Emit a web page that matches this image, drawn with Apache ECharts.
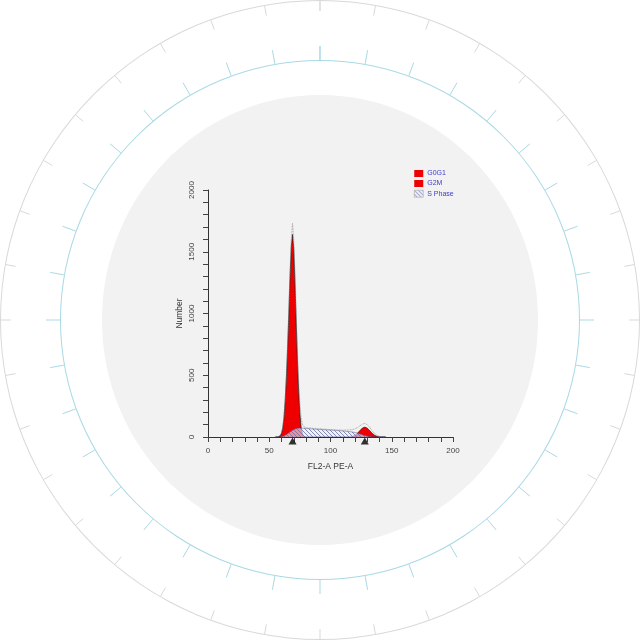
<!DOCTYPE html>
<html>
<head>
<meta charset="utf-8">
<style>html,body{margin:0;padding:0;background:#fff;}#c{width:640px;height:640px;}</style>
<script src="https://cdn.jsdelivr.net/npm/echarts@6/dist/echarts.min.js"></script>
</head>
<body>
<div id="c"></div>
<script>
// Channel positions (FL2-A PE-A)
const channels = [55,57,59,60,61,62,63,64,65,66,67,68,69,70,71,72,73,74,75,76,77,78,80,82,84,86,88,90,92,94,96,98,100,102,104,106,108,110,112,114,116,118,120,122,124,126,128,130,132,134,136,138,140,142,145];
// G0G1 model counts
const g0g1 = [0,0,10,30,70,150,290,480,720,1000,1300,1540,1640,1520,1250,930,620,370,190,80,30,8,0,0,0,0,0,0,0,0,0,0,0,0,0,0,0,0,0,0,0,0,0,0,0,0,0,0,0,0,0,0,0,0,0];
// S phase model counts
const sPhase = [0,0,0,2,5,9,14,20,27,34,41,48,54,60,64,68,70,72,72,72,71,70,69,68,66,65,63,62,61,60,58,57,56,55,54,52,51,49,47,45,43,40,36,31,25,18,12,7,3,1,0,0,0,0,0];
// G2M model counts
const g2m = [0,0,0,0,0,0,0,0,0,0,0,0,0,0,0,0,0,0,0,0,0,0,0,0,0,0,0,0,0,0,0,0,0,0,0,0,0,0,0,0,0,5,14,30,52,72,80,72,52,30,14,5,1,0,0];
// Measured histogram
const total = [0,2,15,35,80,165,310,510,760,1050,1360,1610,1730,1600,1330,1010,700,450,270,160,105,85,76,72,74,69,70,66,67,63,64,60,61,58,59,56,57,55,56,57,58,60,66,76,90,104,111,100,78,50,28,12,5,1,0];
// Peak markers
const peakChannels = [69, 128];

function pairs(vals){ return channels.map((c,i)=>[c, vals[i]]); }

// hatch pattern
const pc = document.createElement('canvas');
pc.width = 4; pc.height = 4;
const g = pc.getContext('2d');
g.fillStyle = 'rgba(238,239,250,0.6)';
g.fillRect(0,0,4,4);
g.strokeStyle = '#6a70ad';
g.lineWidth = 0.8;
g.beginPath();
g.moveTo(0,0); g.lineTo(4,4);
g.moveTo(-1,3); g.lineTo(1,5);
g.moveTo(3,-1); g.lineTo(5,1);
g.stroke();
const hatch = {image: pc, repeat: 'repeat'};

const chart = echarts.init(document.getElementById('c'), null, {renderer:'canvas'});
const font = 'Liberation Sans';

function ring(radius, color, dist, len){
  return {
    type:'gauge', center:['50%','50%'], radius: radius,
    startAngle: 90, endAngle: -270, min: 0, max: 360, splitNumber: 36,
    silent: true, animation:false,
    axisLine:{lineStyle:{width:1, color:[[1,color]]}},
    axisTick:{show:false},
    splitLine:{distance: dist, length: len, lineStyle:{color: color, width:1}},
    axisLabel:{show:false}, pointer:{show:false}, anchor:{show:false},
    title:{show:false}, detail:{show:false}, progress:{show:false},
    data:[]
  };
}

chart.setOption({
  animation:false,
  backgroundColor:'#ffffff',
  graphic:{elements:[{type:'ellipse', z:-100, silent:true, shape:{cx:320, cy:320, rx:218, ry:225}, style:{fill:'#f2f2f2'}}]},
  grid:{left:208, right:187, top:190, bottom:203, containLabel:false},
  legend:{
    orient:'vertical', left:414, top:170, padding:0, itemWidth:9, itemGap:3, itemHeight:7, icon:'rect',
    textStyle:{fontFamily:font, fontSize:7, color:'#3c3cc8', padding:[0,0,0,-1]},
    data:[
      {name:'G0G1', itemStyle:{color:'#ee0000', borderWidth:0}},
      {name:'G2M', itemStyle:{color:'#ee0000', borderWidth:0}},
      {name:'S Phase', itemStyle:{color:hatch, borderColor:'#9a9a9a', borderWidth:0.5}}
    ]
  },
  xAxis:{
    type:'value', min:0, max:200, interval:10,
    name:'FL2-A PE-A', nameLocation:'middle', nameGap:25,
    nameTextStyle:{fontFamily:font, fontSize:8.5, color:'#333'},
    axisLine:{lineStyle:{color:'#333', width:1}},
    axisTick:{length:5, lineStyle:{color:'#444'}},
    splitLine:{show:false},
    axisLabel:{fontFamily:font, fontSize:8, color:'#444', margin:10, formatter:v=> v%50===0 ? String(v) : ''}
  },
  yAxis:{
    type:'value', min:0, max:2000, interval:100,
    name:'Number', nameLocation:'middle', nameGap:24, nameRotate:90,
    nameTextStyle:{fontFamily:font, fontSize:8.5, color:'#333'},
    axisLine:{show:true, lineStyle:{color:'#333', width:1}},
    axisTick:{show:true, length:5, lineStyle:{color:'#444'}},
    splitLine:{show:false},
    axisLabel:{fontFamily:font, fontSize:8, color:'#444', margin:12, rotate:90, formatter:v=> v%500===0 ? String(v) : ''}
  },
  series:[
    ring(320, '#d9d9d9', 0, 10),
    ring(260, '#a9d9e6', -15, 14),
    {name:'G0G1', type:'line', data:pairs(g0g1), showSymbol:false, symbol:'none', z:3,
      lineStyle:{color:'#1a1a1a', width:0.7}, itemStyle:{color:'#ee0000'}, areaStyle:{color:'#ee0000', opacity:1}},
    {name:'G2M', type:'line', data:pairs(g2m), showSymbol:false, symbol:'none', z:3,
      lineStyle:{color:'#1a1a1a', width:0.6}, itemStyle:{color:'#ee0000'}, areaStyle:{color:'#ee0000', opacity:1}},
    {name:'S Phase', type:'line', data:pairs(sPhase), showSymbol:false, symbol:'none', z:4,
      lineStyle:{color:'#555a90', width:0.5}, itemStyle:{color:hatch}, areaStyle:{color:hatch, opacity:1}},
    {name:'Total', type:'line', data:pairs(total), showSymbol:false, symbol:'none', z:5,
      lineStyle:{color:'#8a8a8a', width:0.8, type:'dotted'}},
    {name:'Peaks', type:'scatter', data:peakChannels.map(c=>[c,0]), symbol:'triangle', symbolSize:[8,7], symbolOffset:[0,4], z:6,
      itemStyle:{color:'#000'}}
  ]
});
</script>
</body>
</html>
